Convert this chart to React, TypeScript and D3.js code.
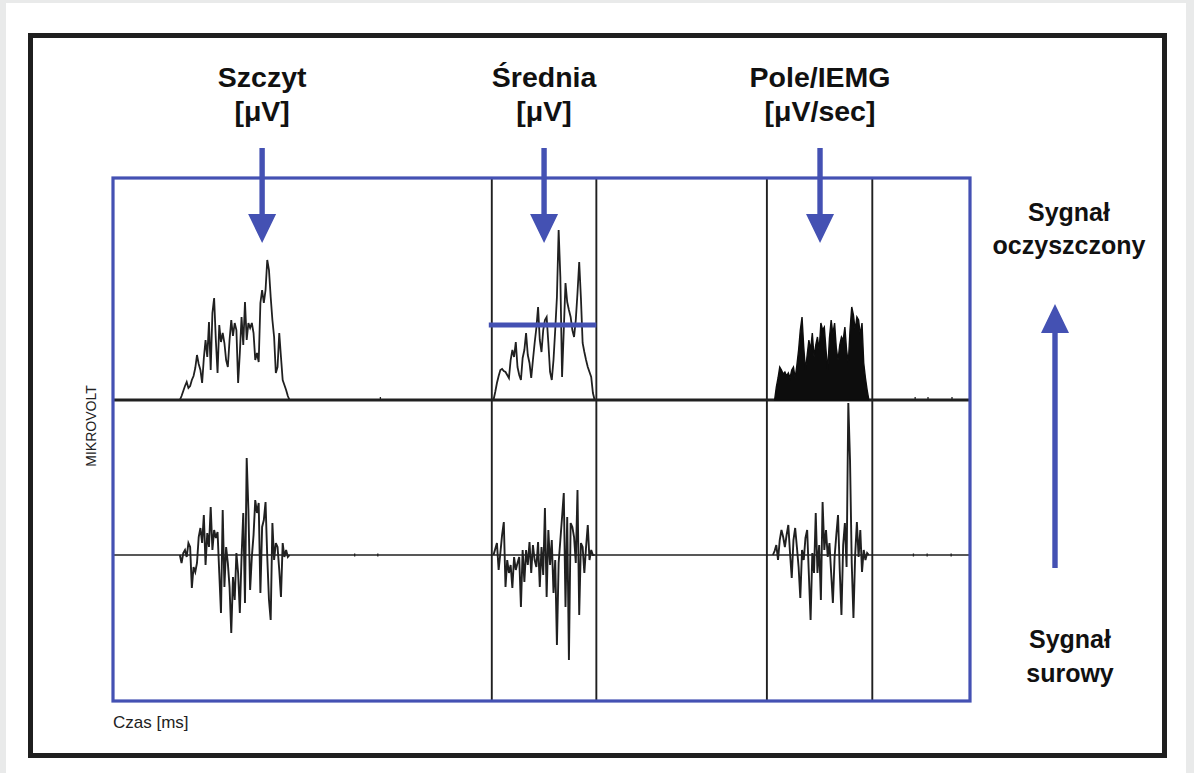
import React from 'react';
import * as d3 from 'd3';

// time axis in ms, sampled every 2 ms
const SAMPLE_MS = 2;
const measureTitles = ['Szczyt', 'Średnia', 'Pole/IEMG'];
const measureUnits = ['[μV]', '[μV]', '[μV/sec]'];
const measureTimes = [174, 503, 825];
const windowEdges = [442, 564, 763, 886];
const meanLevel = 75;

// rectified (cleaned) signal, μV
const peakRectStart = 78;
const peakRect = [0, 4, 9, 14, 18, 12, 14, 20, 24, 32, 45, 36, 30, 17, 42, 60, 43, 78, 30, 87, 102, 60, 27, 75, 58, 67, 57, 40, 33, 60, 80, 64, 77, 70, 17, 47, 83, 55, 98, 60, 77, 72, 77, 67, 40, 47, 38, 97, 110, 97, 110, 140, 130, 103, 80, 63, 27, 33, 67, 43, 20, 15, 10, 4, 0];
const meanRectStart = 444;
const meanRect = [0, 8, 17, 24, 30, 31, 29, 28, 25, 22, 40, 50, 43, 58, 33, 25, 20, 42, 50, 67, 45, 37, 22, 40, 57, 72, 93, 60, 48, 70, 80, 83, 57, 28, 20, 40, 70, 103, 170, 123, 23, 70, 117, 98, 90, 83, 70, 63, 80, 107, 138, 102, 57, 48, 40, 33, 28, 23, 7, 0];
const areaRectStart = 772;
const areaRect = [0, 13, 22, 33, 30, 26, 28, 24, 27, 22, 30, 33, 22, 35, 50, 70, 83, 53, 30, 45, 60, 50, 67, 43, 55, 63, 50, 77, 70, 73, 50, 30, 62, 80, 66, 77, 52, 40, 55, 63, 60, 73, 50, 37, 70, 93, 85, 70, 83, 80, 65, 77, 37, 22, 10, 0];

// raw signal, μV
const peakRawStart = 78;
const peakRaw = [0, -8, 2, 5, -2, 12, 8, -33, -12, -17, -8, 18, 27, 12, 40, -10, 22, 8, 48, 5, 25, 17, 23, -18, -58, 45, -32, 8, -8, -32, -78, -22, -45, 2, -18, -58, -2, 42, -48, 97, 45, -35, -2, 20, 55, 42, 52, -38, 28, 35, 53, -2, -45, -65, 32, -5, 12, 8, -15, -42, 12, -2, 5, -2, 0];
const meanRawStart = 444;
const meanRaw = [0, 6, 12, -15, 2, 20, 33, -32, -5, -18, -10, -33, -2, -15, -8, -2, -52, 5, -27, 5, -10, 13, -18, 10, -5, -12, 13, -32, 8, -20, 47, -42, 25, -10, 15, -38, -5, -90, -8, 15, 38, 62, -52, 38, -105, 32, 28, 18, -8, 65, -60, 12, 8, -18, 8, 30, -5, 5, 0, 0];
const areaRawStart = 770;
const areaRaw = [0, 4, 10, -5, 15, 25, 18, 8, 20, 30, 2, -23, 15, 27, 8, -12, -43, 5, -5, 17, 25, -20, -65, 2, -18, 42, -18, 10, -45, 53, 5, 25, -2, 12, -18, -48, -2, 20, 40, -15, -60, 10, 32, -12, 152, 95, -8, -63, 0, 33, -2, 25, -17, 5, -5, 2, 0];

// tiny artefacts on the baselines
const upperBlips = [312, 936, 951, 979];
const lowerBlips = [282, 309, 934, 950, 978];

const BLUE = '#4451b3';
const INK = '#202020';
const FONT = '"Liberation Sans", Arial, Helvetica, sans-serif';

const x = d3.scaleLinear().domain([0, 1000]).range([113, 970]);
const yUp = d3.scaleLinear().domain([0, 220]).range([400, 180]);
const yLo = d3.scaleLinear().domain([-150, 150]).range([705, 405]);

const toPoints = (start: number, vals: number[]) =>
    vals.map((v, i) => ({ t: start + i * SAMPLE_MS, v }));

const upLine = d3.line<{ t: number; v: number }>().x(d => x(d.t)).y(d => yUp(d.v));
const upArea = d3.area<{ t: number; v: number }>().x(d => x(d.t)).y0(yUp(0)).y1(d => yUp(d.v));
const loLine = d3.line<{ t: number; v: number }>().x(d => x(d.t)).y(d => yLo(d.v));

const downArrow = (cx: number) => {
    const top = 148, headTop = 214, tip = 243, sw = 2.7, hw = 14;
    return `M${cx - sw},${top}H${cx + sw}V${headTop}H${cx + hw}L${cx},${tip}L${cx - hw},${headTop}H${cx - sw}Z`;
};

const upArrow = (cx: number) => {
    const bottom = 568, headBot = 333, tip = 304, sw = 2.7, hw = 14;
    return `M${cx - sw},${bottom}H${cx + sw}V${headBot}H${cx + hw}L${cx},${tip}L${cx - hw},${headBot}H${cx - sw}Z`;
};

const App = () => {
    const W = 1194, H = 773;
    return (
        <svg width={W} height={H} style={{ position: 'absolute', left: 0, top: 0 }} fontFamily={FONT}>
            <rect x={0} y={0} width={W} height={H} fill="#e9eaea" />
            <rect x={6} y={3} width={1180} height={H - 3} fill="#ffffff" />
            <rect x={30.5} y={35.5} width={1134} height={720} fill="none" stroke="#1f1f1f" strokeWidth={5} />

            {/* window edges */}
            {windowEdges.map((t, i) => (
                <line key={'w' + i} x1={x(t)} x2={x(t)} y1={178} y2={701} stroke={INK} strokeWidth={1.9} />
            ))}

            {/* baselines */}
            <line x1={x(0)} x2={x(1000)} y1={yUp(0)} y2={yUp(0)} stroke={INK} strokeWidth={2.8} />
            <line x1={x(0)} x2={x(1000)} y1={yLo(0)} y2={yLo(0)} stroke={INK} strokeWidth={1.7} />
            {upperBlips.map((t, i) => (
                <line key={'ub' + i} x1={x(t)} x2={x(t)} y1={yUp(0)} y2={yUp(3)} stroke={INK} strokeWidth={1.3} />
            ))}
            {lowerBlips.map((t, i) => (
                <line key={'lb' + i} x1={x(t)} x2={x(t)} y1={yLo(-1.5)} y2={yLo(1.5)} stroke={INK} strokeWidth={1.3} />
            ))}

            {/* cleaned signal */}
            <path d={upLine(toPoints(peakRectStart, peakRect)) || ''} fill="none" stroke={INK} strokeWidth={1.8} />
            <path d={upLine(toPoints(meanRectStart, meanRect)) || ''} fill="none" stroke={INK} strokeWidth={1.8} />
            <path d={upArea(toPoints(areaRectStart, areaRect)) || ''} fill="#0d0d0d" stroke="#0d0d0d" strokeWidth={1.4} />

            {/* raw signal */}
            <path d={loLine(toPoints(peakRawStart, peakRaw)) || ''} fill="none" stroke={INK} strokeWidth={1.9} />
            <path d={loLine(toPoints(meanRawStart, meanRaw)) || ''} fill="none" stroke={INK} strokeWidth={1.9} />
            <path d={loLine(toPoints(areaRawStart, areaRaw)) || ''} fill="none" stroke={INK} strokeWidth={1.9} />

            {/* mean level */}
            <line x1={x(windowEdges[0]) - 3} x2={x(windowEdges[1])} y1={yUp(meanLevel)} y2={yUp(meanLevel)} stroke={BLUE} strokeWidth={5} />

            {/* panel border */}
            <rect x={113} y={178} width={857} height={523} fill="none" stroke={BLUE} strokeWidth={3.2} />

            {/* measure labels + arrows */}
            {measureTitles.map((title, i) => (
                <g key={'m' + i}>
                    <text x={x(measureTimes[i])} y={87} textAnchor="middle" fontSize={28.5} fontWeight="bold" fill="#111">{title}</text>
                    <text x={x(measureTimes[i])} y={121} textAnchor="middle" fontSize={28.5} fontWeight="bold" fill="#111">{measureUnits[i]}</text>
                    <path d={downArrow(x(measureTimes[i]))} fill={BLUE} />
                </g>
            ))}

            {/* right side */}
            <text x={1069} y={221} textAnchor="middle" fontSize={25} fontWeight="bold" fill="#111">Sygnał</text>
            <text x={1069} y={254} textAnchor="middle" fontSize={25} fontWeight="bold" fill="#111">oczyszczony</text>
            <path d={upArrow(1055)} fill={BLUE} />
            <text x={1070} y={648} textAnchor="middle" fontSize={25} fontWeight="bold" fill="#111">Sygnał</text>
            <text x={1070} y={682} textAnchor="middle" fontSize={25} fontWeight="bold" fill="#111">surowy</text>

            {/* axis captions */}
            <text transform="translate(96,426) rotate(-90)" textAnchor="middle" fontSize={14} fill="#222">MIKROVOLT</text>
            <text x={113} y={728} fontSize={17} fill="#222">Czas [ms]</text>
        </svg>
    );
};

export default App;
